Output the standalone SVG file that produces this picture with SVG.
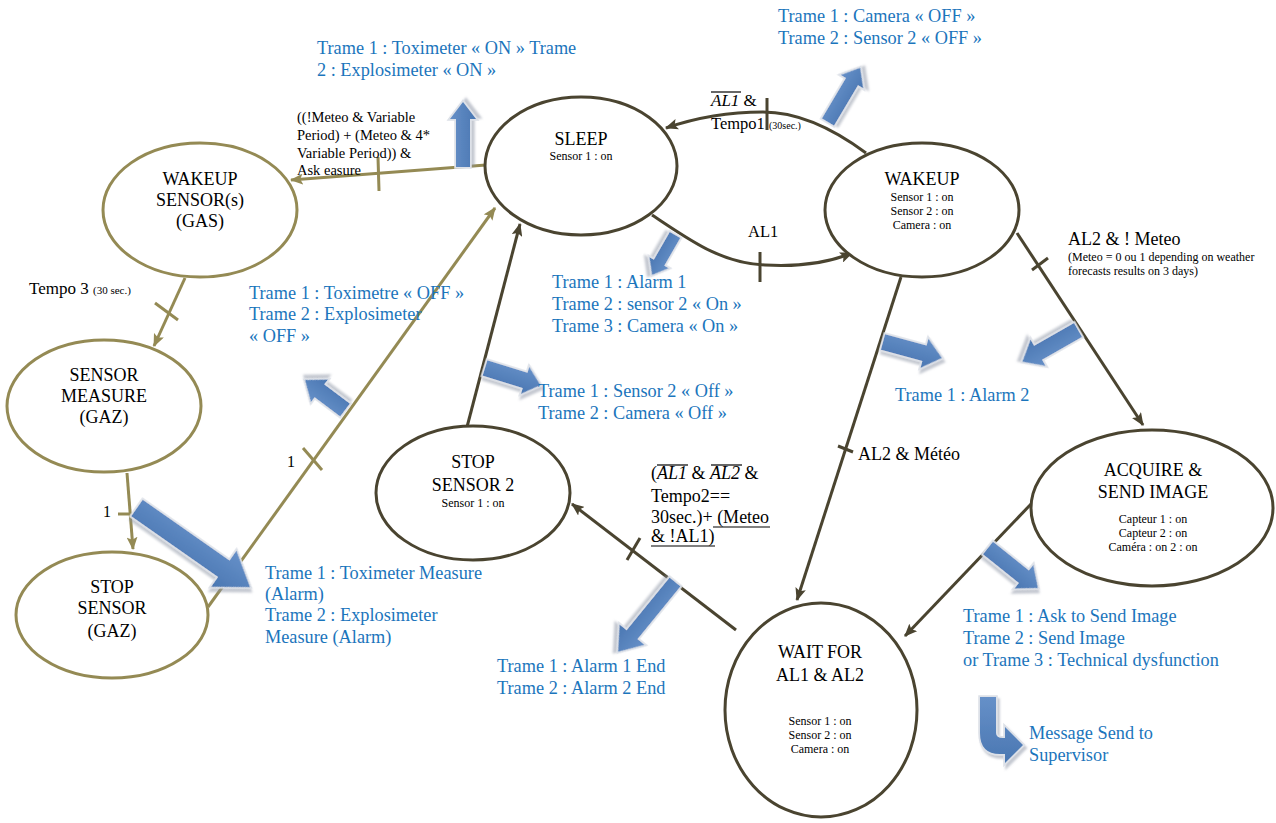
<svg xmlns="http://www.w3.org/2000/svg" width="1276" height="823" viewBox="0 0 1276 823">
<defs>
<style>
.nd{fill:#fff;stroke:#4A4430;stroke-width:3}
.ng{fill:#fff;stroke:#948A54;stroke-width:3}
.cd{fill:none;stroke:#4A4430;stroke-width:3}
.cg{fill:none;stroke:#948A54;stroke-width:3}
.t{font-family:"Liberation Serif","Times New Roman",serif;fill:#000}
.tt{font-size:18px;text-anchor:middle}
.ts{font-size:12px;text-anchor:middle}
.lb{font-size:18px}
.bl{font-family:"Liberation Serif","Times New Roman",serif;font-size:18.3px;fill:#1B75BC}
.ba{fill:url(#bg);stroke:#dde1e8;stroke-width:3.5;paint-order:stroke;filter:url(#sh)}
</style>
<linearGradient id="bg" x1="0" y1="0" x2="0" y2="1">
<stop offset="0" stop-color="#6690c8"/>
<stop offset="1" stop-color="#4a77b2"/>
</linearGradient>
<filter id="sh" x="-30%" y="-30%" width="160%" height="160%">
<feDropShadow dx="2" dy="3" stdDeviation="1.2" flood-color="#8a93a3" flood-opacity="0.5"/>
</filter>
<marker id="ad" viewBox="0 0 12 10" refX="11" refY="5" markerWidth="13" markerHeight="11" markerUnits="userSpaceOnUse" orient="auto"><path d="M0,0 L12,5 L0,10 L2.5,5 Z" fill="#4A4430"/></marker>
<marker id="ag" viewBox="0 0 12 10" refX="11" refY="5" markerWidth="13" markerHeight="11" markerUnits="userSpaceOnUse" orient="auto"><path d="M0,0 L12,5 L0,10 L2.5,5 Z" fill="#948A54"/></marker>
</defs>
<rect width="1276" height="823" fill="#fff"/>

<g id="connectors">
<path class="cg" d="M486,165 L291,180" marker-end="url(#ag)"/>
<path class="cg" d="M378,157 L379,191"/>
<path class="cg" d="M185,278 L154,346" marker-end="url(#ag)"/>
<path class="cg" d="M155,303 L178,320"/>
<path class="cg" d="M127,473 L133,549" marker-end="url(#ag)"/>
<path class="cg" d="M118,514 L132,514"/>
<path class="cg" d="M208,607 L495,208" marker-end="url(#ag)"/>
<path class="cg" d="M303,448 L322,470"/>
<path class="cd" d="M467,427 L520,224" marker-end="url(#ad)"/>
<path class="cd" d="M652,215 C690,240 720,263 765,265 C800,267 830,262 852,253" marker-end="url(#ad)"/>
<path class="cd" d="M760,252 L760,282"/>
<path class="cd" d="M866,153 C835,130 800,112 763,112 C730,112 695,118 666,128" marker-end="url(#ad)"/>
<path class="cd" d="M767,98 L767,130"/>
<path class="cd" d="M1017,233 L1143,425" marker-end="url(#ad)"/>
<path class="cd" d="M1032,270 L1048,258"/>
<path class="cd" d="M901,277 L797,600" marker-end="url(#ad)"/>
<path class="cd" d="M838,446 L853,452"/>
<path class="cd" d="M1032,503 L905,636" marker-end="url(#ad)"/>
<path class="cd" d="M736,630 L572,504" marker-end="url(#ad)"/>
<path class="cd" d="M627,560 L640,538"/>
</g>

<g id="node-sleep">
<ellipse class="nd" cx="581" cy="166" rx="96" ry="69"/>
<text class="t tt" x="581" y="145">SLEEP</text>
<text class="t ts" x="581" y="160">Sensor 1 : on</text>
</g>
<g id="node-wakeup">
<ellipse class="nd" cx="922" cy="210" rx="97" ry="67"/>
<text class="t tt" x="922" y="185">WAKEUP</text>
<text class="t ts" x="922" y="201">Sensor 1 : on</text>
<text class="t ts" x="922" y="215">Sensor 2 : on</text>
<text class="t ts" x="922" y="229">Camera : on</text>
</g>
<g id="node-wakeup-gas">
<ellipse class="ng" cx="200" cy="210" rx="97" ry="67"/>
<text class="t tt" x="200" y="185">WAKEUP</text>
<text class="t tt" x="200" y="206">SENSOR(s)</text>
<text class="t tt" x="200" y="227">(GAS)</text>
</g>
<g id="node-sensor-measure">
<ellipse class="ng" cx="104" cy="406" rx="97" ry="66"/>
<text class="t tt" x="104" y="381">SENSOR</text>
<text class="t tt" x="104" y="402">MEASURE</text>
<text class="t tt" x="104" y="423">(GAZ)</text>
</g>
<g id="node-stop-sensor">
<ellipse class="ng" cx="112" cy="615" rx="96" ry="63"/>
<text class="t tt" x="112" y="593">STOP</text>
<text class="t tt" x="112" y="614">SENSOR</text>
<text class="t tt" x="112" y="637">(GAZ)</text>
</g>
<g id="node-stop-sensor2">
<ellipse class="nd" cx="473" cy="493" rx="97" ry="67"/>
<text class="t tt" x="473" y="468">STOP</text>
<text class="t tt" x="473" y="491">SENSOR 2</text>
<text class="t ts" x="473" y="507">Sensor 1 : on</text>
</g>
<g id="node-wait">
<ellipse class="nd" cx="821" cy="710" rx="96" ry="107"/>
<text class="t tt" x="820" y="658">WAIT FOR</text>
<text class="t tt" x="820" y="681">AL1 &amp; AL2</text>
<text class="t ts" x="820" y="725">Sensor 1 : on</text>
<text class="t ts" x="820" y="739">Sensor 2 : on</text>
<text class="t ts" x="820" y="753">Camera : on</text>
</g>
<g id="node-acquire">
<ellipse class="nd" cx="1152" cy="508" rx="121" ry="78"/>
<text class="t tt" x="1153" y="476">ACQUIRE &amp;</text>
<text class="t tt" x="1153" y="498">SEND IMAGE</text>
<text class="t ts" x="1153" y="523">Capteur 1 : on</text>
<text class="t ts" x="1153" y="537">Capteur 2 : on</text>
<text class="t ts" x="1153" y="551">Caméra : on 2 : on</text>
</g>

<g id="block-arrows">
<path class="ba" transform="translate(463,167) rotate(-90)" d="M0,-7 L48,-7 L48,-13 L65,0 L48,13 L48,7 L0,7Z"/>
<path class="ba" transform="translate(828,122) rotate(-59.3)" d="M0,-7 L47,-7 L47,-13 L63,0 L47,13 L47,7 L0,7Z"/>
<path class="ba" transform="translate(675,235) rotate(119.9)" d="M0,-6 L32,-6 L32,-11 L46,0 L32,11 L32,6 L0,6Z"/>
<path class="ba" transform="translate(345,410) rotate(-143.1)" d="M0,-8 L32,-8 L32,-14 L50,0 L32,14 L32,8 L0,8Z"/>
<path class="ba" transform="translate(485,368) rotate(17.2)" d="M0,-8 L42,-8 L42,-14 L58,0 L42,14 L42,8 L0,8Z"/>
<path class="ba" transform="translate(137,508) rotate(35)" d="M0,-10 L106,-10 L106,-22 L138,0 L106,22 L106,10 L0,10Z"/>
<path class="ba" transform="translate(675,582) rotate(129.2)" d="M0,-7 L68,-7 L68,-16 L90,0 L68,16 L68,7 L0,7Z"/>
<path class="ba" transform="translate(883,342) rotate(15.2)" d="M0,-8 L43,-8 L43,-15 L61,0 L43,15 L43,8 L0,8Z"/>
<path class="ba" transform="translate(1078,330) rotate(150.3)" d="M0,-8 L46,-8 L46,-15 L64,0 L46,15 L46,8 L0,8Z"/>
<path class="ba" transform="translate(988,548) rotate(38.7)" d="M0,-8 L46,-8 L46,-15 L64,0 L46,15 L46,8 L0,8Z"/>
<path class="ba" d="M980,697 L996,697 L996,733 Q996,738 1003,738 L1005,738 L1005,727 L1023,745 L1005,763 L1005,754 L1000,754 Q980,754 980,733 Z"/>
</g>

<g id="labels">
<text class="t" font-size="14.5px" x="297" y="122">((!Meteo &amp; Variable</text>
<text class="t" font-size="14.5px" x="297" y="140">Period) + (Meteo &amp; 4*</text>
<text class="t" font-size="14.5px" x="297" y="158">Variable Period)) &amp;</text>
<text class="t" font-size="14.5px" x="297" y="175">Ask easure</text>

<text class="t" font-size="17px" x="711" y="106"><tspan font-style="italic">AL1</tspan> &amp;</text>
<line x1="711" y1="92" x2="741" y2="92" stroke="#000" stroke-width="1.2"/>
<text class="t" font-size="16.5px" x="711" y="129">Tempo1 <tspan font-size="10px">(30sec.)</tspan></text>

<text class="t" font-size="16.5px" x="748" y="237">AL1</text>

<text class="t lb" x="1068" y="245">AL2 &amp; ! Meteo</text>
<text class="t" font-size="12px" x="1068" y="261">(Meteo = 0 ou 1 depending on weather</text>
<text class="t" font-size="12px" x="1068" y="275">forecasts results on 3 days)</text>

<text class="t" font-size="17px" x="29" y="294">Tempo 3 <tspan font-size="11px">(30 sec.)</tspan></text>
<text class="t" font-size="16px" x="103" y="517">1</text>
<text class="t" font-size="16px" x="287" y="467">1</text>

<text class="t lb" x="858" y="460">AL2 &amp; Météo</text>

<text class="t lb" x="651" y="479">(<tspan font-style="italic">AL1</tspan> &amp; <tspan font-style="italic">AL2</tspan> &amp;</text>
<line x1="657" y1="465" x2="688" y2="465" stroke="#000" stroke-width="1.2"/>
<line x1="711" y1="465" x2="742" y2="465" stroke="#000" stroke-width="1.2"/>
<text class="t lb" x="651" y="502">Tempo2==</text>
<text class="t lb" x="651" y="523">30sec.)+ (Meteo</text>
<line x1="713" y1="527" x2="770" y2="527" stroke="#000" stroke-width="1.2"/>
<text class="t lb" x="651" y="542">&amp; !AL1)</text>
<line x1="651" y1="546" x2="715" y2="546" stroke="#000" stroke-width="1.2"/>
</g>

<g id="frames">
<text class="bl" x="317" y="54">Trame 1 : Toximeter « ON » Trame</text>
<text class="bl" x="317" y="76">2 : Explosimeter « ON »</text>
<text class="bl" x="778" y="22">Trame 1 : Camera « OFF »</text>
<text class="bl" x="778" y="44">Trame 2 : Sensor 2 « OFF »</text>
<text class="bl" x="552" y="288">Trame 1 : Alarm 1</text>
<text class="bl" x="552" y="310">Trame 2 : sensor 2 « On »</text>
<text class="bl" x="552" y="332">Trame 3 : Camera « On »</text>
<text class="bl" x="249" y="299">Trame 1 : Toximetre « OFF »</text>
<text class="bl" x="249" y="320">Trame 2 : Explosimeter</text>
<text class="bl" x="249" y="342">« OFF »</text>
<text class="bl" x="538" y="397">Trame 1 : Sensor 2 « Off »</text>
<text class="bl" x="538" y="419">Trame 2 : Camera « Off »</text>
<text class="bl" x="895" y="401">Trame 1 : Alarm 2</text>
<text class="bl" x="265" y="579">Trame 1 : Toximeter Measure</text>
<text class="bl" x="265" y="600">(Alarm)</text>
<text class="bl" x="265" y="621">Trame 2 : Explosimeter</text>
<text class="bl" x="265" y="643">Measure (Alarm)</text>
<text class="bl" x="497" y="672">Trame 1 : Alarm 1 End</text>
<text class="bl" x="497" y="694">Trame 2 : Alarm 2 End</text>
<text class="bl" x="963" y="622">Trame 1 : Ask to Send Image</text>
<text class="bl" x="963" y="644">Trame 2 : Send Image</text>
<text class="bl" x="963" y="666">or Trame 3 : Technical dysfunction</text>
<text class="bl" x="1029" y="739">Message Send to</text>
<text class="bl" x="1029" y="761">Supervisor</text>
</g>
</svg>
